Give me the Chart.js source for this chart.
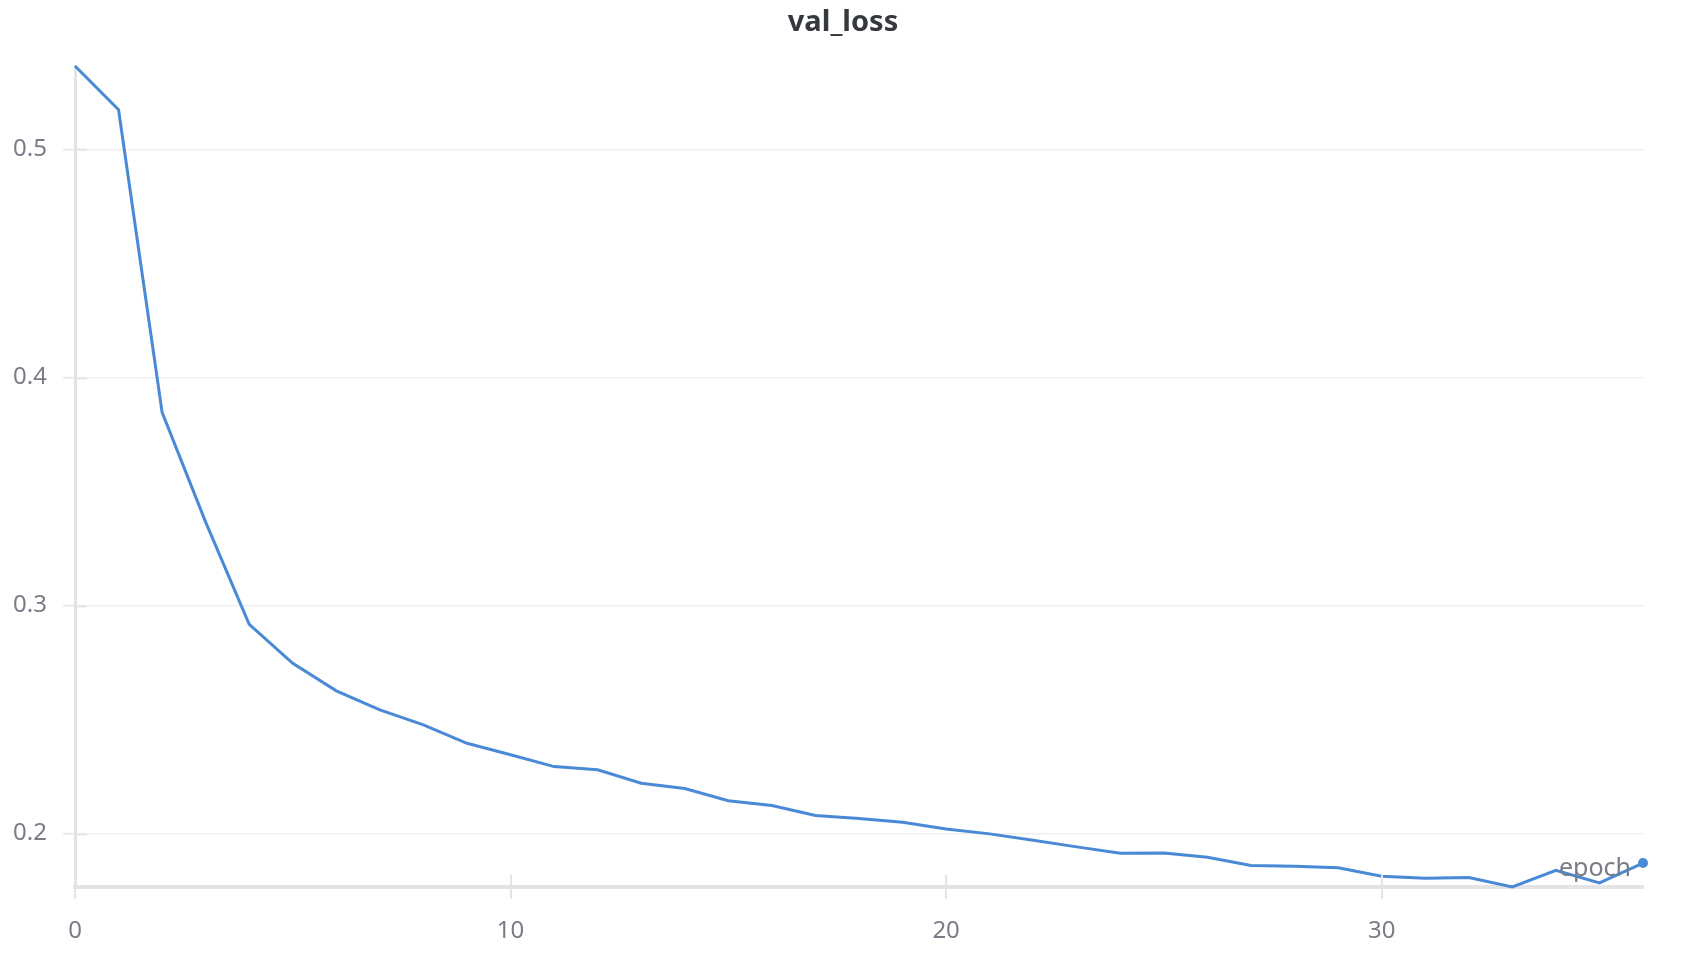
<!DOCTYPE html>
<html>
<head>
<meta charset="utf-8">
<script src="https://cdn.jsdelivr.net/npm/chart.js@4.4.1/dist/chart.umd.min.js"></script>
<style>
  html, body { margin: 0; padding: 0; background: #ffffff; }
  #wrap { width: 1700px; height: 954px; position: relative; }
</style>
</head>
<body>
<div id="wrap"><canvas id="chart"></canvas></div>
<script>
const epochs = [0, 1, 2, 3, 4, 5, 6, 7, 8, 9, 10, 11, 12, 13, 14, 15, 16, 17, 18,
                19, 20, 21, 22, 23, 24, 25, 26, 27, 28, 29, 30, 31, 32, 33, 34, 35, 36];
const valLoss = [0.5366, 0.5174, 0.3847, 0.3366, 0.2918, 0.2747, 0.2626, 0.2543, 0.2477,
                 0.2396, 0.2346, 0.2294, 0.2280, 0.2221, 0.2198, 0.2144, 0.2123, 0.2080,
                 0.2066, 0.2050, 0.2020, 0.1999, 0.1971, 0.1942, 0.1914, 0.1915, 0.1896,
                 0.1860, 0.1857, 0.1850, 0.1813, 0.1804, 0.1808, 0.1766, 0.1839, 0.1784,
                 0.1871];
const xTicks = [0, 10, 20, 30];
const yTicks = [0.2, 0.3, 0.4, 0.5];

const lineColor = "#4a89d6";
const tickColor = "#787c86";
const axisColor = "#e4e4e6";
const fontFamily = "'Noto Sans', 'Open Sans', sans-serif";

// title, short tick marks that cross the axis lines, and the "epoch" label in the corner
const decorations = {
    id: "decorations",
    afterDraw(chart) {
        const ctx = chart.ctx;
        const x = chart.scales.x;
        const y = chart.scales.y;
        const area = chart.chartArea;
        ctx.save();
        ctx.strokeStyle = axisColor;
        ctx.lineWidth = 2;
        for (const v of yTicks) {
            const py = Math.round(y.getPixelForValue(v)) + 0.5;
            ctx.beginPath();
            ctx.moveTo(area.left, py);
            ctx.lineTo(area.left + 12, py);
            ctx.stroke();
        }
        for (const v of xTicks) {
            if (v === 0) continue;
            const px = Math.round(x.getPixelForValue(v));
            ctx.beginPath();
            ctx.moveTo(px, area.bottom);
            ctx.lineTo(px, area.bottom - 12);
            ctx.stroke();
        }
        ctx.fillStyle = tickColor;
        ctx.font = "25px " + fontFamily;
        ctx.textAlign = "right";
        ctx.textBaseline = "middle";
        ctx.fillText("epoch", area.right - 12, area.bottom - 18);

        ctx.fillStyle = "#35393e";
        ctx.font = "bold 29px " + fontFamily;
        ctx.textAlign = "center";
        ctx.fillText("val_loss", (area.left + area.right) / 2 - 16, 23);
        ctx.restore();
    }
};

const data = epochs.map((e, i) => ({ x: e, y: valLoss[i] }));

new Chart(document.getElementById("chart"), {
    type: "line",
    data: {
        datasets: [{
            data: data,
            borderColor: lineColor,
            backgroundColor: lineColor,
            borderWidth: 3,
            tension: 0,
            pointRadius: ctx => ctx.dataIndex === epochs.length - 1 ? 5 : 0,
            pointHoverRadius: 0,
            pointBorderWidth: 0,
            clip: false
        }]
    },
    options: {
        responsive: true,
        maintainAspectRatio: false,
        animation: false,
        layout: { padding: { left: 0, right: 57, top: 66, bottom: 0 } },
        plugins: {
            legend: { display: false },
            tooltip: { enabled: false },
            title: { display: false }
        },
        scales: {
            x: {
                type: "linear",
                min: 0,
                max: 36,
                afterBuildTicks: scale => { scale.ticks = xTicks.map(v => ({ value: v })); },
                afterFit: scale => { scale.height = 67; },
                border: { color: axisColor, width: 4 },
                grid: { drawOnChartArea: false, drawTicks: true, tickLength: 12, color: axisColor, lineWidth: 2 },
                ticks: {
                    color: tickColor,
                    padding: 18,
                    maxRotation: 0,
                    font: { family: fontFamily, size: 24 }
                }
            },
            y: {
                type: "linear",
                bounds: "data",
                afterBuildTicks: scale => { scale.ticks = yTicks.map(v => ({ value: v })); },
                afterFit: scale => { scale.width = 75; },
                border: { color: axisColor, width: 3 },
                grid: { color: "#efefef", lineWidth: 1.5, drawTicks: true, tickLength: 12, tickColor: axisColor },
                ticks: {
                    color: tickColor,
                    padding: 16,
                    includeBounds: false,
                    callback: v => v.toFixed(1),
                    font: { family: fontFamily, size: 24 }
                }
            }
        }
    },
    plugins: [decorations]
});
</script>
</body>
</html>
